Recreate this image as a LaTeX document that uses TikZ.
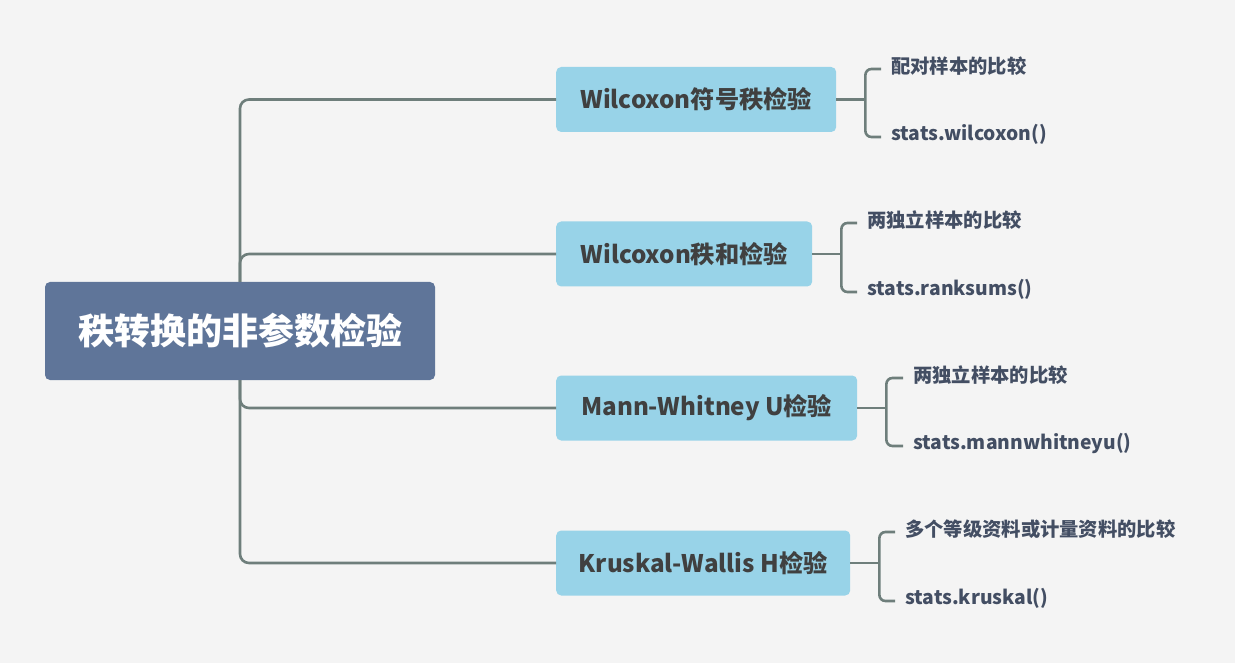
\documentclass[tikz,border=0pt]{standalone}
\usepackage{fontspec}
\setmainfont{Noto Sans CJK SC}
\definecolor{bg}{HTML}{F4F4F4}
\definecolor{rootfill}{HTML}{5F7599}
\definecolor{childfill}{HTML}{98D3E8}
\definecolor{childtext}{HTML}{404040}
\definecolor{leaftext}{HTML}{434E63}
\definecolor{linec}{HTML}{6E7E7B}
\begin{document}
\begin{tikzpicture}[x=1pt,y=-1pt,
  rootbox/.style={fill=rootfill,rounded corners=5pt,minimum width=390pt,minimum height=98pt,inner sep=0pt,text=white,font=\fontsize{36}{42}\selectfont\bfseries},
  childbox/.style={fill=childfill,rounded corners=5pt,minimum height=65pt,inner sep=0pt,anchor=west,text=childtext,font=\fontsize{24.2}{28}\selectfont\bfseries},
  leaf/.style={anchor=west,inner sep=0pt,text=leaftext,font=\fontsize{19.3}{23}\selectfont\bfseries},
  conn/.style={draw=linec,line width=2.6pt,rounded corners=9pt},
  brk/.style={draw=linec,line width=2.6pt,rounded corners=6pt}]
\fill[bg] (0,0) rectangle (1235,663);
\useasboundingbox (0,0) rectangle (1235,663);

\node[rootbox] (root) at (240,331) {秩转换的非参数检验};

\node[childbox,minimum width=280pt] (c1) at (556,99.5) {Wilcoxon符号秩检验};
\node[childbox,minimum width=256pt] (c2) at (556,254) {Wilcoxon秩和检验};
\node[childbox,minimum width=301pt] (c3) at (556,408) {Mann-Whitney U检验};
\node[childbox,minimum width=294pt] (c4) at (556,563) {Kruskal-Wallis H检验};

\draw[conn] (root.north) |- (c1.west);
\draw[conn] (root.north) |- (c2.west);
\draw[conn] (root.south) |- (c3.west);
\draw[conn] (root.south) |- (c4.west);

\node[leaf] (l1a) at (891,66) {配对样本的比较};
\node[leaf] (l1b) at (891,134) {stats.wilcoxon()};
\node[leaf] (l2a) at (867,220) {两独立样本的比较};
\node[leaf] (l2b) at (867,289) {stats.ranksums()};
\node[leaf] (l3a) at (913,375) {两独立样本的比较};
\node[leaf] (l3b) at (913,443) {stats.mannwhitneyu()};
\node[leaf] (l4a) at (905,529) {多个等级资料或计量资料的比较};
\node[leaf] (l4b) at (905,598) {stats.kruskal()};

\coordinate (k1) at ([xshift=29pt]c1.east);
\coordinate (k2) at ([xshift=29pt]c2.east);
\coordinate (k3) at ([xshift=29pt]c3.east);
\coordinate (k4) at ([xshift=29pt]c4.east);

\draw[conn] (c1.east) -- (k1);
\draw[conn] (c2.east) -- (k2);
\draw[conn] (c3.east) -- (k3);
\draw[conn] (c4.east) -- (k4);

\draw[brk] ([xshift=-10pt,yshift=-3pt]l1a.west) -| (k1) |- ([xshift=-10pt,yshift=-3pt]l1b.west);
\draw[brk] ([xshift=-10pt,yshift=-3pt]l2a.west) -| (k2) |- ([xshift=-10pt,yshift=-3pt]l2b.west);
\draw[brk] ([xshift=-10pt,yshift=-3pt]l3a.west) -| (k3) |- ([xshift=-10pt,yshift=-3pt]l3b.west);
\draw[brk] ([xshift=-10pt,yshift=-3pt]l4a.west) -| (k4) |- ([xshift=-10pt,yshift=-3pt]l4b.west);
\end{tikzpicture}
\end{document}
